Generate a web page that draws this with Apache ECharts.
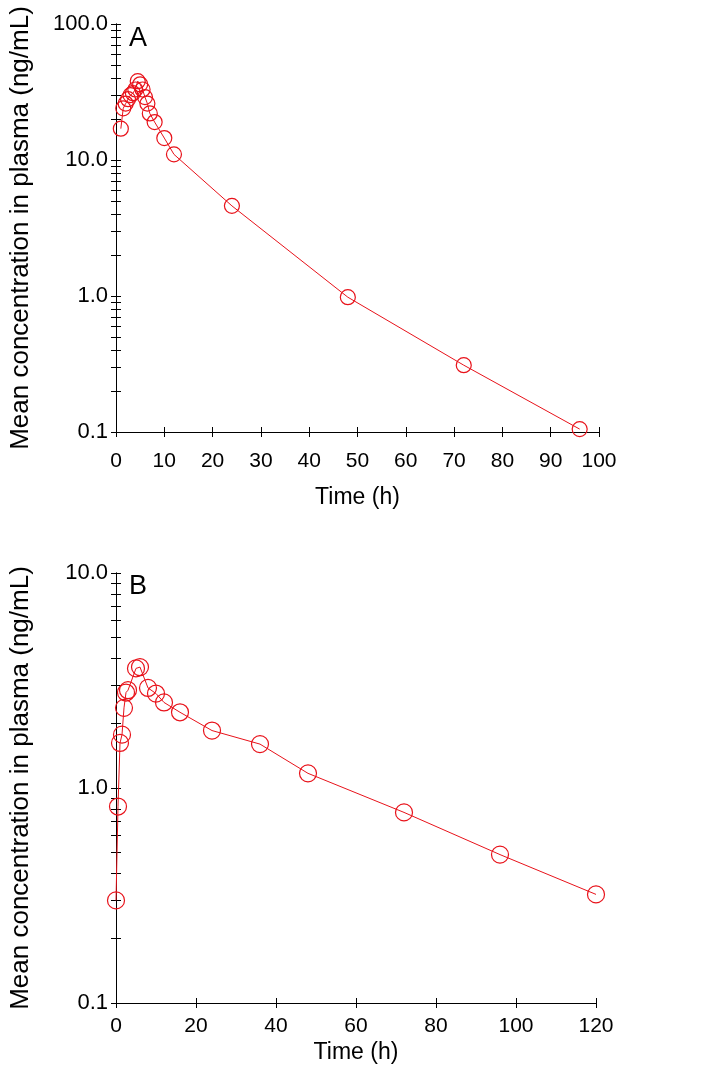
<!DOCTYPE html>
<html>
<head>
<meta charset="utf-8">
<script src="https://cdn.jsdelivr.net/npm/echarts@6/dist/echarts.min.js"></script>
<style>
  html, body { margin: 0; padding: 0; background: #fff; }
  #chart { width: 707px; height: 1083px; }
</style>
</head>
<body>
<div id="chart"></div>
<script>
// panel A
var timesA = [1, 1.5, 2, 2.5, 3, 3.5, 4, 4.5, 5, 5.5, 6, 6.5, 7, 8, 10, 12, 24, 48, 72, 96];
var concA = [17, 24, 26, 28, 30, 31, 33, 38, 36, 33, 29, 26, 22, 19, 14.5, 11, 4.6, 0.98, 0.31, 0.105];
var xTicksA = [0, 100, 10];
var yLabelsA = [0.1, 1, 10, 100];

// panel B
var timesB = [0, 0.5, 1, 1.5, 2, 2.5, 3, 5, 6, 8, 10, 12, 16, 24, 36, 48, 72, 96, 120];
var concB = [0.3, 0.82, 1.62, 1.77, 2.36, 2.78, 2.85, 3.6, 3.65, 2.92, 2.75, 2.5, 2.25, 1.85, 1.6, 1.17, 0.77, 0.49, 0.32];
var xTicksB = [0, 120, 20];
var yLabelsB = [0.1, 1, 10];

var red = '#e8121a';
var yTitle = 'Mean concentration in plasma (ng/mL)';
var font = 'Arial, "Liberation Sans", sans-serif';

// log ticks 1..9 per decade
function logTicks(lo, hi) {
  var out = [];
  for (var d = lo; d < hi; d *= 10) {
    for (var k = 1; k < 10; k++) out.push(+(d * k).toPrecision(3));
  }
  out.push(hi);
  return out;
}

function pair(arrX, arrY) {
  return arrX.map(function (t, i) { return [t, arrY[i]]; });
}

function xAxes(grid, t, margin, gap) {
  var base = {
    type: 'value', gridIndex: grid, min: t[0], max: t[1], interval: t[2],
    splitLine: { show: false },
    axisLine: { lineStyle: { color: '#000', width: 1 } }
  };
  return [
    Object.assign({}, base, {
      name: 'Time (h)', nameLocation: 'middle', nameGap: gap,
      nameTextStyle: { fontFamily: font, fontSize: 23, color: '#000', verticalAlign: 'top' },
      axisTick: { inside: false, length: 5, lineStyle: { color: '#000' } },
      axisLabel: { fontFamily: font, fontSize: 21, color: '#000', margin: margin }
    }),
    Object.assign({}, base, {
      position: 'bottom',
      axisTick: { inside: true, length: 5, lineStyle: { color: '#000' } },
      axisLabel: { show: false }
    })
  ];
}

function yAxes(grid, labels) {
  var lo = labels[0], hi = labels[labels.length - 1];
  var ticks = logTicks(lo, hi);
  var base = {
    type: 'log', logBase: 10, gridIndex: grid, min: lo, max: hi, position: 'left',
    splitLine: { show: false },
    axisLine: { lineStyle: { color: '#000', width: 1 } }
  };
  return [
    Object.assign({}, base, {
      name: yTitle, nameLocation: 'middle', nameGap: 82,
      nameTextStyle: { fontFamily: font, fontSize: 26, color: '#000' },
      axisTick: { inside: false, length: 5, customValues: ticks, lineStyle: { color: '#000' } },
      axisLabel: {
        fontFamily: font, fontSize: 22, color: '#000', margin: 8,
        customValues: labels,
        formatter: function (v) { return (+v).toFixed(1); }
      }
    }),
    Object.assign({}, base, {
      axisTick: { inside: true, length: 5, customValues: ticks, lineStyle: { color: '#000' } },
      axisLabel: { show: false }
    })
  ];
}

function series(grid, xi, yi, data, size) {
  return {
    type: 'line', xAxisIndex: xi, yAxisIndex: yi, data: data,
    symbol: 'circle', symbolSize: size, animation: false,
    lineStyle: { color: red, width: 1 },
    itemStyle: { color: 'rgba(0,0,0,0)', borderColor: red, borderWidth: 1.2 }
  };
}

var chart = echarts.init(document.getElementById('chart'), null, { renderer: 'canvas' });
chart.setOption({
  animation: false,
  backgroundColor: '#fff',
  title: [
    { text: 'A', left: 124, top: 20, textStyle: { fontFamily: font, fontSize: 27, fontWeight: 'normal', color: '#000' } },
    { text: 'B', left: 124, top: 568, textStyle: { fontFamily: font, fontSize: 27, fontWeight: 'normal', color: '#000' } }
  ],
  grid: [
    { left: 111, right: 108, top: 24, bottom: 651 },
    { left: 111, right: 111, top: 573, bottom: 80 }
  ],
  xAxis: xAxes(0, xTicksA, 19, 54).concat(xAxes(1, xTicksB, 13, 38)),
  yAxis: yAxes(0, yLabelsA).concat(yAxes(1, yLabelsB)),
  series: [
    series(0, 0, 0, pair(timesA, concA), 15),
    series(1, 2, 2, pair(timesB, concB), 17)
  ]
});
</script>
</body>
</html>
